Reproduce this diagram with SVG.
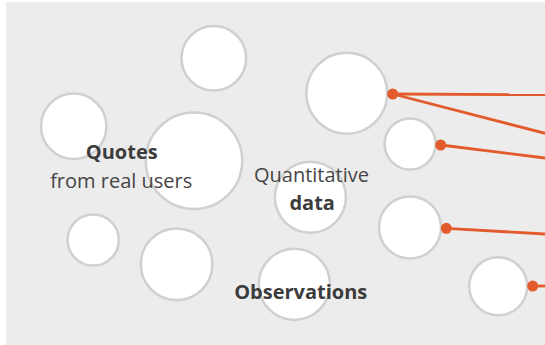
<svg xmlns="http://www.w3.org/2000/svg" width="545" height="345" viewBox="0 0 545 345">
<style>
.n{fill:#ffffff;stroke:#d0d0d0;stroke-width:2.5}
.c{stroke:#e35a2c;stroke-width:2.8;fill:none}
.d{fill:#e35a2c}
.t{font-family:"Open Sans","Noto Sans",sans-serif;font-size:20px;fill:#454545;text-anchor:middle}
.b{font-weight:bold;fill:#3c3c3c}
</style>
<rect x="6" y="2" width="539" height="343" fill="#ececec"/>
<g id="nodes">
<g id="n1"><circle class="n" cx="213.8" cy="58.3" r="32.3"/></g>
<g id="n2"><circle class="n" cx="73.7" cy="126.2" r="32.7"/></g>
<g id="n3"><circle class="n" cx="194" cy="160.7" r="48.2"/></g>
<g id="n4"><circle class="n" cx="346.8" cy="93.3" r="40.5"/></g>
<g id="n5"><circle class="n" cx="410.1" cy="144" r="25.5"/></g>
<g id="n6"><circle class="n" cx="310.4" cy="197.3" r="35.5"/></g>
<g id="n7"><circle class="n" cx="93.2" cy="240" r="25.6"/></g>
<g id="n8"><circle class="n" cx="176.6" cy="264.3" r="35.8"/></g>
<g id="n9"><circle class="n" cx="294.4" cy="284.3" r="35.6"/></g>
<g id="n10"><circle class="n" cx="410" cy="227.4" r="31"/></g>
<g id="n11"><circle class="n" cx="498.2" cy="286.3" r="29"/></g>
</g>
<g id="connectors">
<line class="c" x1="392.7" y1="94" x2="545" y2="94.7"/>
<line class="c" x1="392.7" y1="94" x2="545" y2="133.3"/>
<line class="c" x1="440.7" y1="145" x2="545" y2="158"/>
<line class="c" x1="446.3" y1="228.3" x2="545" y2="234"/>
<line class="c" x1="532.7" y1="286" x2="545" y2="286"/>
<circle class="d" cx="392.7" cy="94" r="5.5"/>
<circle class="d" cx="440.7" cy="145" r="5.5"/>
<circle class="d" cx="446.3" cy="228.3" r="5.5"/>
<circle class="d" cx="532.7" cy="286" r="5.5"/>
</g>
<g id="labels">
<text class="t b" x="121.7" y="158.5">Quotes</text>
<text class="t" x="121.2" y="187.5">from real users</text>
<text class="t" x="311.5" y="181.5">Quantitative</text>
<text class="t b" x="312.2" y="209.5">data</text>
<text class="t b" x="300.7" y="298.5">Observations</text>
</g>
</svg>
